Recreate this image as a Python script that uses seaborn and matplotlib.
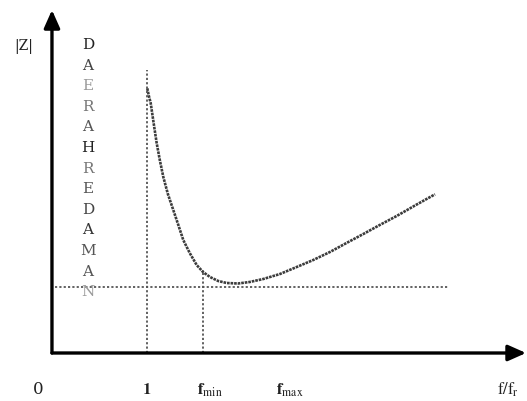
import matplotlib
matplotlib.use("Agg")
import matplotlib.pyplot as plt
import seaborn as sns
import pandas as pd

# Impedance magnitude |Z| versus normalised frequency f/f_r
freq_ratio = [1.003, 1.02, 1.039, 1.07, 1.102, 1.135, 1.172, 1.22, 1.277, 1.33,
              1.382, 1.45, 1.523, 1.59, 1.663, 1.75, 1.839, 1.958, 2.08, 2.224,
              2.40, 2.576, 2.75, 2.926, 3.10, 3.277, 3.45, 3.628, 3.83, 4.032]
impedance = [2.647, 2.57, 2.50, 2.30, 2.10, 1.93, 1.76, 1.59, 1.43, 1.28,
             1.13, 1.00, 0.88, 0.81, 0.76, 0.72, 0.70, 0.695, 0.71, 0.74,
             0.79, 0.86, 0.93, 1.01, 1.10, 1.19, 1.28, 1.37, 1.48, 1.587]

f_r = 1.0          # resonance (normalised)
f_min = 1.586      # lower edge of the damping band
f_max = 2.42       # upper edge label position
z_level = 0.663    # impedance threshold level
z_top = 2.83       # top of the f_r guide line
z_fmin = 0.83      # top of the f_min guide line
x_end = 4.17       # end of the threshold line

tick_pos = [-0.15, 1.0, f_min, f_max]
tick_text = ["0", r"$\mathbf{1}$", r"$\mathbf{f}_{\mathrm{min}}$", r"$\mathbf{f}_{\mathrm{max}}$"]

band_letters = list("DAERAHREDAMAN")
band_shades = ["#222222", "#444444", "#999999", "#777777", "#555555", "#222222",
               "#777777", "#555555", "#444444", "#333333", "#555555", "#555555",
               "#9a9a9a"]

sns.set_theme(style="white")
plt.rcParams["mathtext.fontset"] = "stix"
plt.rcParams["font.family"] = ["DejaVu Serif"]

fig = plt.figure(figsize=(5.27, 4.01), dpi=100)
ax = fig.add_axes([0, 0, 1, 1])
ax.set_xlim(-0.547, 5.0)
ax.set_ylim(-0.48, 3.53)
ax.axis("off")

df = pd.DataFrame({"f": freq_ratio, "z": impedance})
sns.lineplot(data=df, x="f", y="z", ax=ax, color="#3c3c3c", lw=1.9,
             linestyle=(0, (1.0, 0.35)), sort=False)

# Guide lines
dot = dict(color="#555555", lw=1.3, linestyle=(0, (1.2, 1.2)))
ax.plot([f_r, f_r], [0, z_top], **dot)
ax.plot([f_min, f_min], [0, z_fmin], **dot)
ax.plot([0.03, x_end], [z_level, z_level], **dot)

# Axes with arrow heads
arrow = dict(arrowstyle="-|>,head_length=0.9,head_width=0.4", lw=2.4,
             color="black", shrinkA=0, shrinkB=0)
ax.annotate("", xy=(4.99, 0), xytext=(0, 0), arrowprops=arrow)
ax.annotate("", xy=(0, 3.43), xytext=(0, 0), arrowprops=arrow)

# Labels
ax.text(-0.30, 3.06, "|Z|", fontsize=10, ha="center", va="center", color="#222222")
for pos, lab in zip(tick_pos, tick_text):
    ha = "center" if pos < 1.5 else "left"
    ax.text(pos if pos < 1.5 else pos - 0.06, -0.37, lab, fontsize=12,
            ha=ha, va="center", color="#222222")
ax.text(4.68, -0.37, r"$\mathrm{f/f_r}$", fontsize=12, ha="left", va="center",
        color="#222222")

for i, (ch, shade) in enumerate(zip(band_letters, band_shades)):
    ax.text(0.38, 3.08 - i * 0.206, ch, fontsize=11, ha="center", va="center",
            color=shade)

fig.savefig("out.png", dpi=100)
